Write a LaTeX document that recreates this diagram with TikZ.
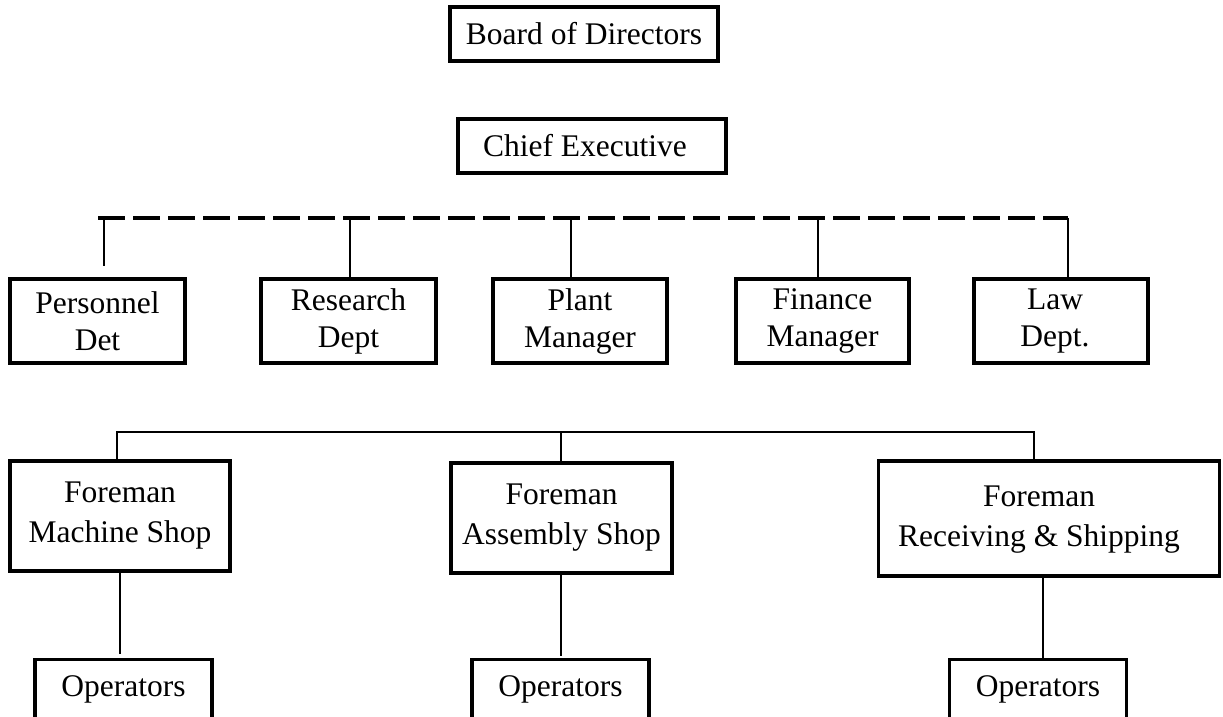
\documentclass[tikz,border=0pt]{standalone}
\usepackage{fontspec}
\setmainfont{Liberation Serif}
\begin{document}
\begin{tikzpicture}[x=1pt,y=-1pt,
  box/.style={draw,line width=3.4pt,inner sep=0pt,font=\fontsize{31.5}{37}\selectfont},
  mbox/.style={box,align=center},
  lbox/.style={draw,line width=3.4pt,inner sep=0pt,align=center,font=\fontsize{31.5}{40}\selectfont},
  opbox/.style={draw,line width=3.4pt,inner xsep=0pt,inner ysep=0pt,anchor=north,
    minimum width=177pt,text height=37pt,text depth=63pt,font=\fontsize{31.5}{37}\selectfont},
  conn/.style={line width=2.8pt},
  dbus/.style={line width=3.2pt,dash pattern=on 27pt off 8pt}]
\useasboundingbox (0,0) rectangle (1223,717);

% top
\node[box,minimum width=268pt,minimum height=54pt] (board) at (584,34) {Board of Directors};
\node[box,minimum width=268pt,minimum height=54pt] (chief) at (592,146) {Chief Executive\kern14pt};

% department row
\node[mbox,minimum width=175pt,minimum height=84pt] (per) at (97.5,321) {Personnel\\Det};
\node[mbox,minimum width=175pt,minimum height=84pt] (res) at (348.5,321) {Research\\Dept};
\node[mbox,minimum width=174pt,minimum height=84pt] (pla) at (580,321) {Plant\\Manager};
\node[mbox,minimum width=173pt,minimum height=84pt] (fin) at (822.5,321) {Finance\\Manager};
\node[box,font=\fontsize{31.5}{37}\selectfont,minimum width=174pt,minimum height=84pt] (law) at (1061,321)
  {\begin{tabular}{@{}c@{}}Law\\Dept.\end{tabular}\kern12pt};

\coordinate (dper) at (104,218);
\coordinate (dres) at (350,218);
\coordinate (dpla) at (571,218);
\coordinate (dfin) at (818,218);
\coordinate (dlaw) at (1068,218);
\coordinate (dbl) at (98,218);

\draw[dbus] (dbl) -- (dlaw);
\draw[conn,shorten >=11pt] (dper) -- (dper |- per.north);
\draw[conn] (dres) -- (dres |- res.north);
\draw[conn] (dpla) -- (dpla |- pla.north);
\draw[conn] (dfin) -- (dfin |- fin.north);
\draw[conn] (dlaw) -- (dlaw |- law.north);

% foreman row
\node[lbox,minimum width=220pt,minimum height=110pt] (mach) at (120,516) {Foreman\\Machine Shop};
\node[lbox,minimum width=221pt,minimum height=110pt] (asm) at (561.5,518) {Foreman\\Assembly Shop};
\node[box,font=\fontsize{31.5}{40}\selectfont,minimum width=341pt,minimum height=115pt] (recv) at (1049,518.5)
  {\begin{tabular}{@{}c@{}}Foreman\\Receiving \& Shipping\end{tabular}\kern20pt};

\coordinate (fbl) at (117,432);
\coordinate (fbr) at (1034,432);
\coordinate (fba) at (561,432);

\draw[conn] (fbl |- mach.north) -- (fbl) -- (fbr) -- (fbr |- recv.north);
\draw[conn] (fba) -- (fba |- asm.north);

% operators
\node[opbox] (opm) at (123.5,658) {Operators};
\node[opbox] (opa) at (560.5,658) {Operators};
\node[opbox] (opr) at (1038,658) {Operators};

\draw[conn,shorten >=4pt] (mach.south) -- (mach.south |- opm.north);
\draw[conn,shorten >=2pt] ([xshift=-0.5pt]asm.south) -- ([xshift=-0.5pt]asm.south |- opa.north);
\draw[conn] ([xshift=-6pt]recv.south) -- ([xshift=5pt]opr.north);
\end{tikzpicture}
\end{document}
